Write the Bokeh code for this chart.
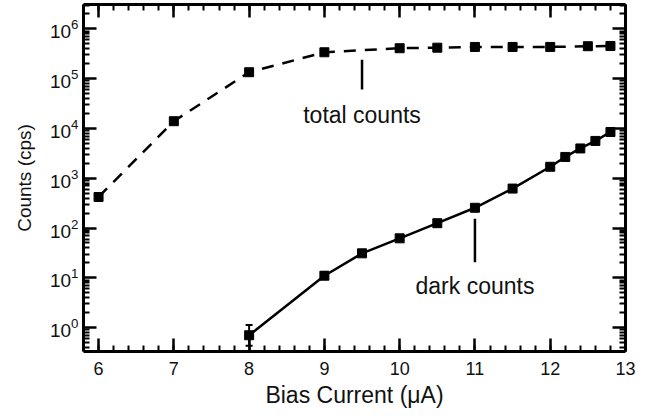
from bokeh.plotting import figure
from bokeh.models import (ColumnDataSource, LinearAxis, LogAxis, SingleIntervalTicker,
                          FixedTicker, Whisker, TeeHead, Range1d, CustomLabelingPolicy)
from bokeh.core.properties import value
from bokeh.embed import file_html
from bokeh.resources import INLINE

# ---- data ----
total_x = [6, 7, 8, 9, 10, 10.5, 11, 11.5, 12, 12.5, 12.8]
total_y = [420, 1.4e4, 1.35e5, 3.4e5, 4.1e5, 4.2e5, 4.35e5, 4.35e5, 4.35e5, 4.5e5, 4.55e5]

dark_x = [8, 9, 9.5, 10, 10.5, 11, 11.5, 12, 12.2, 12.4, 12.6, 12.8]
dark_y = [0.7, 11, 31, 62, 125, 255, 620, 1700, 2680, 3970, 5620, 8500]
dark_lo = [0.43, 9.6, 29, 59, 120, 248, 605, 1660, 2620, 3890, 5500, 8300]
dark_hi = [1.12, 13.0, 33, 65, 130, 262, 635, 1740, 2740, 4050, 5740, 8700]

x_label = "Bias Current (μA)"
y_label = "Counts (cps)"
notes = ["total counts", "dark counts"]
note_x = [9.5, 11.0]
note_line_lo = [6.1e4, 20.4]
note_line_hi = [2.4e5, 153]
note_text_y = [1.85e4, 6.9]

FONT = "Liberation Sans"

p = figure(width=662, height=416, output_backend="svg", toolbar_location=None,
           y_axis_type="log", x_range=Range1d(5.8, 13.0), y_range=Range1d(0.33, 3.1e6),
           min_border_left=83, min_border_right=37, min_border_top=0, min_border_bottom=65)
p.grid.visible = False
p.outline_line_color = None
p.background_fill_color = "white"
p.border_fill_color = "white"

xt = SingleIntervalTicker(interval=1, num_minor_ticks=5)
yt_major = [10.0 ** d for d in range(0, 7)]
yt_minor = [m * 10.0 ** d for d in range(-1, 7) for m in range(2, 10)]
yt = FixedTicker(ticks=yt_major, minor_ticks=yt_minor)

def style_axis(ax, labels=True):
    ax.axis_line_width = 3
    ax.axis_line_color = "black"
    ax.major_tick_in = 13
    ax.major_tick_out = 0
    ax.minor_tick_in = 6
    ax.minor_tick_out = 0
    ax.major_tick_line_width = 2.5
    ax.minor_tick_line_width = 2
    ax.major_tick_line_color = "black"
    ax.minor_tick_line_color = "black"
    ax.major_label_text_font = FONT
    ax.major_label_text_color = "#111111"
    ax.axis_label_text_font = FONT
    ax.axis_label_text_font_style = "normal"
    ax.axis_label_text_color = "#111111"
    if not labels:
        ax.major_label_policy = CustomLabelingPolicy(code="return new Set()")
        ax.major_label_text_font_size = "1px"
        ax.major_label_standoff = 0

xa = p.xaxis[0]
xa.ticker = xt
style_axis(xa)
xa.major_label_text_font_size = "18px"
xa.major_label_standoff = 10
xa.axis_label = x_label
xa.axis_label_text_font_size = "23px"
xa.axis_label_standoff = 4

ya = p.yaxis[0]
ya.ticker = yt
style_axis(ya)
ya.major_label_text_font_size = "19px"
ya.major_label_standoff = 5
ya.axis_label = y_label
ya.axis_label_text_font_size = "19px"
ya.axis_label_standoff = 12

top = LinearAxis(ticker=xt)
style_axis(top, labels=False)
p.add_layout(top, "above")
right = LogAxis(ticker=yt)
style_axis(right, labels=False)
p.add_layout(right, "right")

# total counts
ts = ColumnDataSource(dict(x=total_x, y=total_y))
p.line("x", "y", source=ts, line_color="black", line_width=2.5, line_dash="12 9")
p.scatter("x", "y", source=ts, marker="square", size=9, color="black")

# dark counts
ds = ColumnDataSource(dict(x=dark_x, y=dark_y, lo=dark_lo, hi=dark_hi))
p.line("x", "y", source=ds, line_color="black", line_width=2.5)
p.add_layout(Whisker(source=ds, base="x", lower="lo", upper="hi", line_width=2,
                     line_color="black",
                     upper_head=TeeHead(size=7, line_width=2, line_color="black"),
                     lower_head=TeeHead(size=7, line_width=2, line_color="black")))
p.scatter("x", "y", source=ds, marker="square", size=9, color="black")

# annotations
p.segment(x0=note_x, y0=note_line_lo, x1=note_x, y1=note_line_hi,
          line_color="black", line_width=2.5)
ns = ColumnDataSource(dict(x=note_x, y=note_text_y, t=notes))
p.text("x", "y", text="t", source=ns, text_font=value(FONT), text_font_size="23px",
       text_align="center", text_baseline="alphabetic", text_color="#111111")

open("out.html", "w").write(file_html(p, INLINE))
